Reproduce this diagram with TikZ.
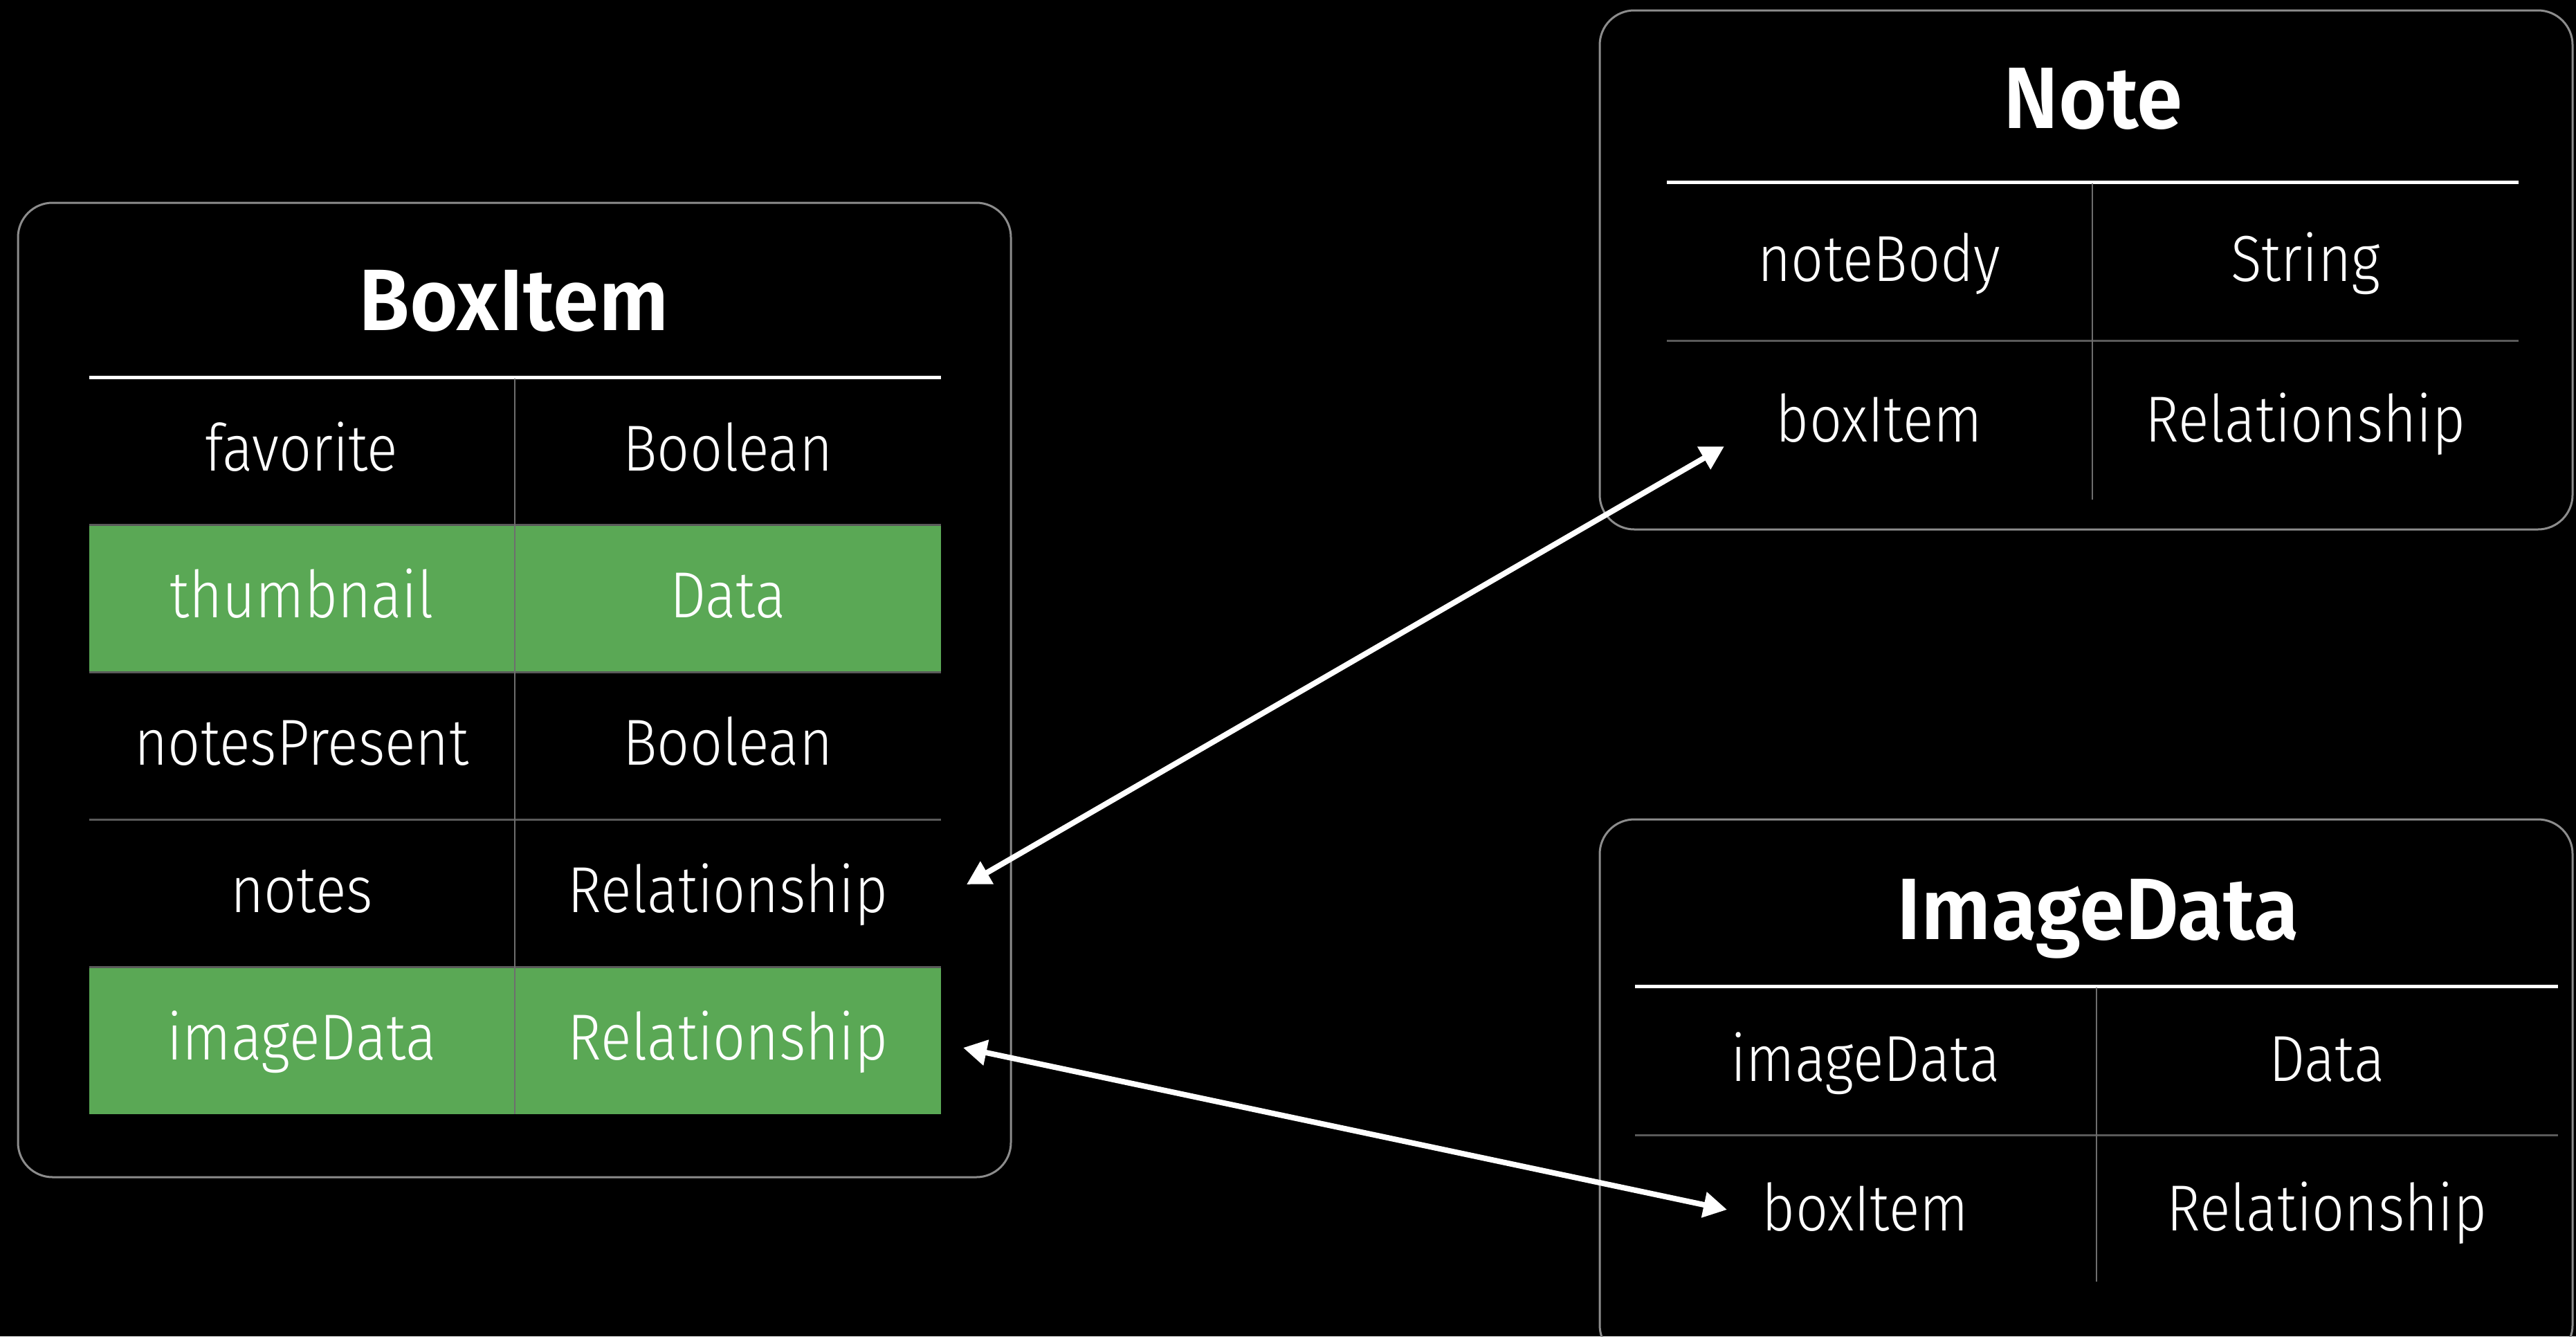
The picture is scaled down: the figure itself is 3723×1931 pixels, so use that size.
\documentclass[tikz,border=0pt]{standalone}
\usepackage{fontspec}
\setmainfont{Fira Sans}
\newfontfamily\rowfont[FakeStretch=0.88]{Fira Sans Light}
\newfontfamily\ttlfont[FakeStretch=0.95]{Fira Sans SemiBold}
\usetikzlibrary{arrows.meta}
\definecolor{grn}{RGB}{90,168,85}
\definecolor{framecol}{RGB}{140,140,140}
\definecolor{sepcol}{RGB}{90,90,90}
\definecolor{vdivcol}{RGB}{110,110,110}
\begin{document}
\begin{tikzpicture}[x=1pt,y=-1pt,
  panel/.style={draw=framecol, line width=3pt, rounded corners=50pt},
  hdr/.style={draw=white, line width=5pt},
  rowsep/.style={draw=sepcol, line width=3pt},
  coldiv/.style={draw=vdivcol, line width=2pt},
  cell/.style={text=white, font=\rowfont\fontsize{94}{100}\selectfont, anchor=base, inner sep=0pt},
  ttl/.style={text=white, font=\ttlfont\fontsize{126}{130}\selectfont, anchor=base, inner sep=0pt},
  link/.style={draw=white, line width=8pt, {Triangle[length=34pt,width=36pt]}-{Triangle[length=34pt,width=36pt]}}
]
\fill[black] (0,0) rectangle (3723,1931);
\useasboundingbox (0,0) rectangle (3723,1931);

% ---------- BoxItem ----------
\draw[panel] (26,293) rectangle (1461,1701);
\fill[grn] (129,758) rectangle (1360,971);
\fill[grn] (129,1397) rectangle (1360,1610);
\foreach \yy in {758,971,1184,1397} \draw[rowsep] (129,\yy) -- (1360,\yy);
\draw[hdr] (129,545) -- (1360,545);
\draw[coldiv] (744,547) -- (744,1610);
\node[ttl] (bi-title) at (743,477) {BoxItem};
\node[cell] (bi-k1) at (436,680) {favorite};
\node[cell] (bi-v1) at (1052,680) {Boolean};
\node[cell] (bi-k2) at (436,892) {thumbnail};
\node[cell] (bi-v2) at (1052,892) {Data};
\node[cell] (bi-k3) at (436,1105) {notesPresent};
\node[cell] (bi-v3) at (1052,1105) {Boolean};
\node[cell] (bi-k4) at (436,1318) {notes};
\node[cell] (bi-v4) at (1052,1318) {Relationship};
\node[cell] (bi-k5) at (436,1531) {imageData};
\node[cell] (bi-v5) at (1052,1531) {Relationship};

% ---------- Note ----------
\draw[panel] (2312,15) rectangle (3718,765);
\draw[rowsep] (2409,492) -- (3640,492);
\draw[hdr] (2409,263) -- (3640,263);
\draw[coldiv] (3024,265) -- (3024,722);
\node[ttl] (nt-title) at (3025,185) {Note};
\node[cell] (nt-k1) at (2716,406) {noteBody};
\node[cell] (nt-v1) at (3332,406) {String};
\node[cell] (nt-k2) at (2716,638) {boxItem};
\node[cell] (nt-v2) at (3332,638) {Relationship};

% ---------- ImageData ----------
\draw[panel] (2312,1184) rectangle (3718,1965);
\draw[rowsep] (2363,1640) -- (3697,1640);
\draw[hdr] (2363,1425) -- (3697,1425);
\draw[coldiv] (3030,1427) -- (3030,1852);
\node[ttl] (id-title) at (3032,1357) {ImageData};
\node[cell] (id-k1) at (2696,1562) {imageData};
\node[cell] (id-v1) at (3363,1562) {Data};
\node[cell] (id-k2) at (2696,1778) {boxItem};
\node[cell] (id-v2) at (3363,1778) {Relationship};

% ---------- connectors ----------
\coordinate (c-notes) at (1397,1278);
\coordinate (c-nbox) at (2492,645);
\coordinate (c-img) at (1392,1514);
\coordinate (c-ibox) at (2496,1748);
\draw[link] (c-notes) -- (c-nbox);
\draw[link] (c-img) -- (c-ibox);
\end{tikzpicture}
\end{document}
